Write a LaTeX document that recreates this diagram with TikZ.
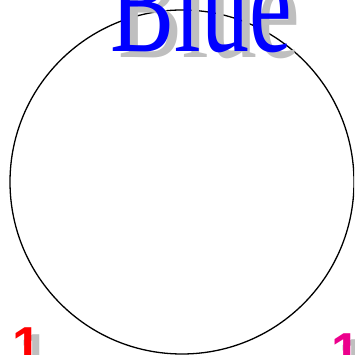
\documentclass[tikz,border=0pt]{standalone}
\usepackage{fontspec}
\setmainfont{Liberation Serif}
\newfontfamily\numfont{Liberation Sans}
\begin{document}
\begin{tikzpicture}[x=1pt, y=1pt, thick]
\tikzset{
  setlabel/.style={inner sep=0pt, anchor=base, yscale=1.45, font=\fontsize{96}{96}\selectfont},
  numlabel/.style={inner sep=0pt, anchor=base, font=\fontsize{52}{52}\selectfont\numfont\bfseries},
  shade/.style={text=black!25}
}
\useasboundingbox (0,0) rectangle (354,355);
\begin{scope}
\clip (0,0) rectangle (354,355);
% set outline
\node[draw, circle, minimum size=344pt, inner sep=0pt, line width=1.3pt] (blueset) at (182,173) {};
% shadows first
\node[setlabel, shade] (blueshadow) at (209,297) {Blue};
\node[numlabel, shade] (oneshadow) at (35,-15) {1};
\node[numlabel, shade] (twoshadow) at (354,-20) {1};
% labels
\node[setlabel, text=blue] (bluename) at (201,303) {Blue};
\node[numlabel, text=red] (onlyblue) at (27,-9) {1};
\node[numlabel, text=magenta] (bluemag) at (346,-14) {1};
\end{scope}
\end{tikzpicture}
\end{document}
